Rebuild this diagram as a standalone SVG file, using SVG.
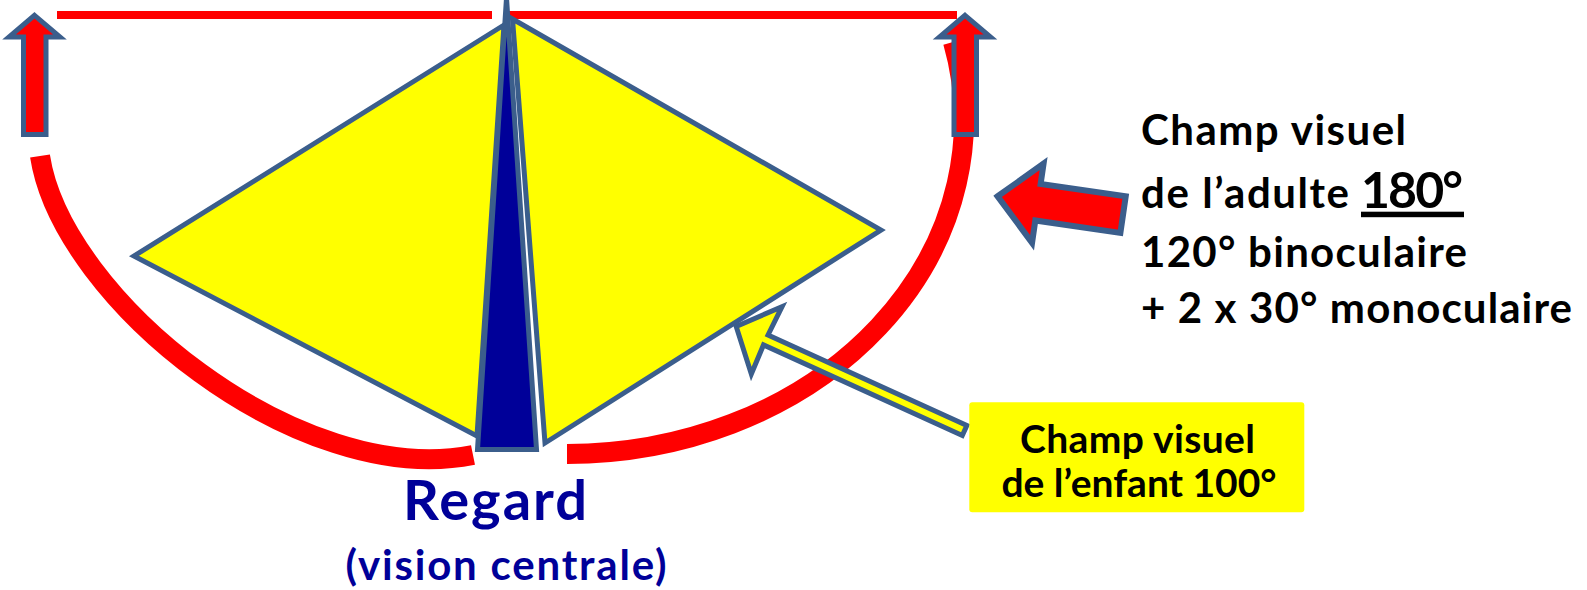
<svg xmlns="http://www.w3.org/2000/svg" width="1587" height="590" viewBox="0 0 1587 590">
<style>
.ol{stroke:#3B5E8C;stroke-width:5;stroke-linejoin:miter;stroke-miterlimit:10}
.ol6{stroke:#3B5E8C;stroke-width:6;stroke-linejoin:miter;stroke-miterlimit:10}
.arc{fill:none;stroke:#FF0000;stroke-width:20}
.t{font-family:Lato,"Liberation Sans",sans-serif;font-weight:bold;fill:#000000}
.tb{font-family:Lato,"Liberation Sans",sans-serif;font-weight:bold;fill:#000099}
</style>
<defs>
<path id="uparrow" d="M34.5,15.3 L60,37 L46,37 L46,134.5 L23.5,134.5 L23.5,37 L9,37 Z"/>
</defs>
<rect width="1587" height="590" fill="#FFFFFF"/>
<g id="field-arcs">
<path class="arc" d="M40,156 C62,300 300,490 473,455"/>
<path class="arc" d="M953,42 A397,334 0 0 1 567,454"/>
<rect x="57" y="11" width="435" height="8" fill="#FF0000"/>
<rect x="507" y="11" width="450" height="8" fill="#FF0000"/>
</g>
<g id="field-left">
<polygon class="ol" fill="#FFFF00" points="504,25 134,256 477,436"/>
</g>
<g id="field-right">
<polygon class="ol" fill="#FFFF00" points="512.5,19 881,230 545,443"/>
</g>
<g id="gaze">
<polygon class="ol" fill="#000099" points="506.5,-2 536.5,449.5 477.5,449.5"/>
</g>
<g id="connectors">
<use href="#uparrow" class="ol" fill="#FF0000"/>
<use href="#uparrow" class="ol" fill="#FF0000" transform="translate(930.5,0)"/>
<path class="ol6" fill="#FF0000" transform="translate(993.3,196.7) rotate(8.3)" d="M4.2,-1 L45,-40 L45,-19.5 L131,-19.5 L131,17.5 L45,17.5 L45,40 Z"/>
<path class="ol" fill="#FFFF00" transform="translate(733,325) rotate(24.5)" d="M3.5,0 L37,-37 L36,-5.5 L254.5,-5.5 L254.5,5.5 L36,5.5 L37,37 Z"/>
</g>
<g id="label-adult">
<text class="t" x="1141" y="145" font-size="42" textLength="265">Champ visuel</text>
<text class="t" x="1141" y="208" font-size="42" textLength="208">de l’adulte</text>
<text class="t" x="1361" y="208" font-size="50" textLength="102">180°</text>
<rect x="1361" y="211.7" width="103" height="5.5" fill="#000000"/>
<text class="t" x="1141" y="267" font-size="42" textLength="326">120° binoculaire</text>
<text class="t" x="1141" y="323" font-size="42" textLength="431">+ 2 x 30° monoculaire</text>
</g>
<g id="label-child">
<rect x="969.3" y="402.3" width="335" height="110" rx="3" fill="#FFFF00"/>
<text class="t" x="1137.5" y="453" font-size="39" text-anchor="middle" textLength="235">Champ visuel</text>
<text class="t" x="1139" y="497" font-size="39" text-anchor="middle" textLength="275">de l’enfant 100°</text>
</g>
<g id="label-regard">
<text class="tb" x="495" y="520" font-size="56" text-anchor="middle" textLength="184">Regard</text>
<text class="tb" x="506" y="580" font-size="42" text-anchor="middle" textLength="321">(vision centrale)</text>
</g>
</svg>
